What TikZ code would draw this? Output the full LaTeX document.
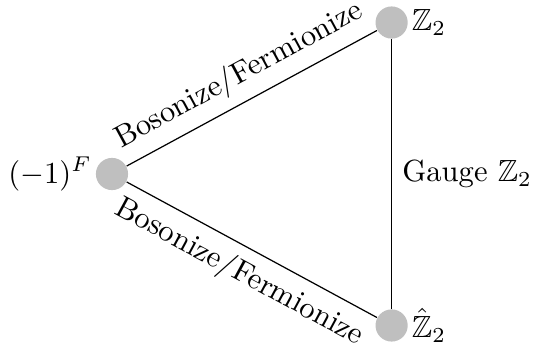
\documentclass[tikz,border=0pt]{standalone}
\usepackage{amsmath,amssymb}
\usetikzlibrary{positioning}

\tikzset{
  dot/.style = {circle, fill = lightgray, inner sep = 0pt, minimum size = 0.37cm},
  tag/.style = {inner sep = 1pt}
}

\begin{document}
\begin{tikzpicture}
            \useasboundingbox(-1.287,-2.11)rectangle(4.839,2.0);

            % 頂点
            \node[dot, label={[tag]left:{$(-1)^{F}$}}](ferm)at(0,0){};
            \node[dot, label={[tag]right:{$\mathbb{Z}_{2}$}}](ztwo)at(3.214,1.741){};
            \node[dot, label={[tag]right:{$\hat{\mathbb{Z}}_{2}$}}](zhat)at(3.214,-1.741){};

            % 辺
            \path[draw](ferm)to node[above, sloped]{Bosonize/Fermionize}(ztwo);
            \path[draw](ferm)to node[below, sloped]{Bosonize/Fermionize}(zhat);
            \path[draw](ztwo)to node[right]{Gauge $\mathbb{Z}_{2}$}(zhat);
\end{tikzpicture}
\end{document}
